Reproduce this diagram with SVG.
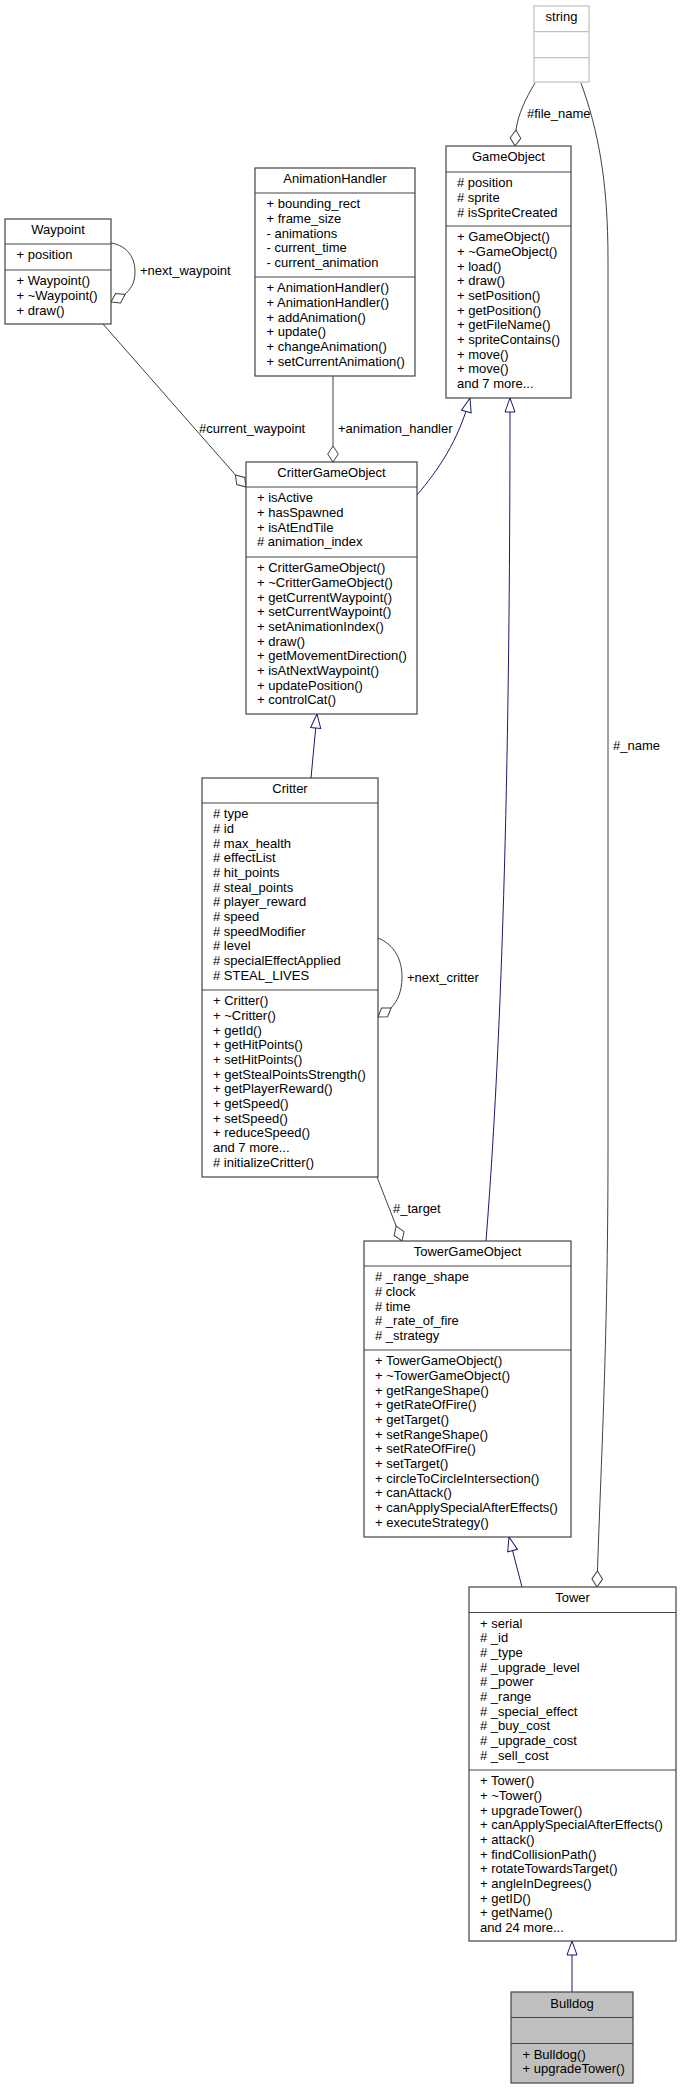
<svg xmlns="http://www.w3.org/2000/svg" width="681" height="2089" viewBox="0 0 681 2089">
<style>
text{font-family:"Liberation Sans",Arial,sans-serif;font-size:13px;fill:#000}
.t{text-anchor:middle}
.box{fill:#fff;stroke:#444;stroke-width:1.2}
.ext{fill:#fff;stroke:#bfbfbf;stroke-width:1.2}
.dv{stroke:#444;stroke-width:1.2}
.dvx{stroke:#bfbfbf;stroke-width:1.2}
.leaf{fill:#bfbfbf;stroke:#444;stroke-width:1.2}
.use{fill:none;stroke:#404040;stroke-width:1}
.inh{fill:none;stroke:#191970;stroke-width:1}
</style>
<defs>
<marker id="dia" viewBox="-17 -7 18 14" markerWidth="18" markerHeight="14" refX="0" refY="0" orient="auto" markerUnits="userSpaceOnUse">
<path d="M0,0 L-8,-5.3 L-16,0 L-8,5.3 Z" fill="#fff" stroke="#404040" stroke-width="1"/>
</marker>
<marker id="tri" viewBox="-15 -6 16 12" markerWidth="16" markerHeight="12" refX="0" refY="0" orient="auto" markerUnits="userSpaceOnUse">
<path d="M0,0 L-14,-5 L-14,5 Z" fill="#fff" stroke="#191970" stroke-width="1"/>
</marker>
</defs>

<g id="connectors">
<path class="use" d="M535,83 C526,98 518,114 516,130 L515,146" marker-end="url(#dia)"/>
<text x="527" y="117.5">#file_name</text>
<path class="use" d="M581,83 C598,130 608,180 608,260 L608,1150 C608,1350 600,1480 597,1587" marker-end="url(#dia)"/>
<text x="613" y="749.5">#_name</text>
<path class="use" d="M111,243 C128,246 135,258 135,272 C135,284 130,290 124,295 L111,302" marker-end="url(#dia)"/>
<text x="140" y="274.5">+next_waypoint</text>
<path class="use" d="M103,324 L246,487" marker-end="url(#dia)"/>
<text x="199" y="432.5">#current_waypoint</text>
<path class="use" d="M333,376 L333,462" marker-end="url(#dia)"/>
<text x="338" y="432.5">+animation_handler</text>
<path class="inh" d="M417,495 C438,470 458,442 470,398" marker-end="url(#tri)"/>
<path class="inh" d="M486,1241 C505,1000 510,700 510,398" marker-end="url(#tri)"/>
<path class="inh" d="M311,778 L317,714" marker-end="url(#tri)"/>
<path class="use" d="M378,938 C395,945 402,960 402,977 C402,992 397,1002 391,1008 L378,1017" marker-end="url(#dia)"/>
<text x="407" y="981.5">+next_critter</text>
<path class="use" d="M377,1177 L402,1241" marker-end="url(#dia)"/>
<text x="393" y="1212.5">#_target</text>
<path class="inh" d="M522,1587 L509,1537" marker-end="url(#tri)"/>
<path class="inh" d="M572,1992 L572,1941" marker-end="url(#tri)"/>
</g>

<g id="string">
<rect class="ext" x="534" y="6" width="55" height="76"/>
<line class="dvx" x1="534" y1="31.6" x2="589" y2="31.6"/>
<line class="dvx" x1="534" y1="57.6" x2="589" y2="57.6"/>
<text class="t" x="561.5" y="21.3">string</text>
</g>

<g id="GameObject">
<rect class="box" x="446" y="146" width="125" height="252"/>
<line class="dv" x1="446" y1="172" x2="571" y2="172"/>
<line class="dv" x1="446" y1="226" x2="571" y2="226"/>
<text class="t" x="508.5" y="161.3">GameObject</text>
<text x="457" y="187.3"><tspan x="457" dy="0"># position</tspan><tspan x="457" dy="14.67"># sprite</tspan><tspan x="457" dy="14.67"># isSpriteCreated</tspan></text>
<text x="457" y="241.3"><tspan x="457" dy="0">+ GameObject()</tspan><tspan x="457" dy="14.67">+ ~GameObject()</tspan><tspan x="457" dy="14.67">+ load()</tspan><tspan x="457" dy="14.67">+ draw()</tspan><tspan x="457" dy="14.67">+ setPosition()</tspan><tspan x="457" dy="14.67">+ getPosition()</tspan><tspan x="457" dy="14.67">+ getFileName()</tspan><tspan x="457" dy="14.67">+ spriteContains()</tspan><tspan x="457" dy="14.67">+ move()</tspan><tspan x="457" dy="14.67">+ move()</tspan><tspan x="457" dy="14.67">and 7 more...</tspan></text>
</g>

<g id="AnimationHandler">
<rect class="box" x="255" y="168" width="160" height="208"/>
<line class="dv" x1="255" y1="193" x2="415" y2="193"/>
<line class="dv" x1="255" y1="277" x2="415" y2="277"/>
<text class="t" x="335" y="183.3">AnimationHandler</text>
<text x="266.5" y="208.3"><tspan x="266.5" dy="0">+ bounding_rect</tspan><tspan x="266.5" dy="14.67">+ frame_size</tspan><tspan x="266.5" dy="14.67">- animations</tspan><tspan x="266.5" dy="14.67">- current_time</tspan><tspan x="266.5" dy="14.67">- current_animation</tspan></text>
<text x="266.5" y="292.3"><tspan x="266.5" dy="0">+ AnimationHandler()</tspan><tspan x="266.5" dy="14.67">+ AnimationHandler()</tspan><tspan x="266.5" dy="14.67">+ addAnimation()</tspan><tspan x="266.5" dy="14.67">+ update()</tspan><tspan x="266.5" dy="14.67">+ changeAnimation()</tspan><tspan x="266.5" dy="14.67">+ setCurrentAnimation()</tspan></text>
</g>

<g id="Waypoint">
<rect class="box" x="5" y="219" width="106" height="105"/>
<line class="dv" x1="5" y1="244" x2="111" y2="244"/>
<line class="dv" x1="5" y1="270" x2="111" y2="270"/>
<text class="t" x="58" y="234.3">Waypoint</text>
<text x="16.5" y="259.3">+ position</text>
<text x="16.5" y="285.3"><tspan x="16.5" dy="0">+ Waypoint()</tspan><tspan x="16.5" dy="14.67">+ ~Waypoint()</tspan><tspan x="16.5" dy="14.67">+ draw()</tspan></text>
</g>

<g id="CritterGameObject">
<rect class="box" x="246" y="462" width="171" height="252"/>
<line class="dv" x1="246" y1="487" x2="417" y2="487"/>
<line class="dv" x1="246" y1="557" x2="417" y2="557"/>
<text class="t" x="331.5" y="477.3">CritterGameObject</text>
<text x="257" y="502.3"><tspan x="257" dy="0">+ isActive</tspan><tspan x="257" dy="14.67">+ hasSpawned</tspan><tspan x="257" dy="14.67">+ isAtEndTile</tspan><tspan x="257" dy="14.67"># animation_index</tspan></text>
<text x="257" y="572.3"><tspan x="257" dy="0">+ CritterGameObject()</tspan><tspan x="257" dy="14.67">+ ~CritterGameObject()</tspan><tspan x="257" dy="14.67">+ getCurrentWaypoint()</tspan><tspan x="257" dy="14.67">+ setCurrentWaypoint()</tspan><tspan x="257" dy="14.67">+ setAnimationIndex()</tspan><tspan x="257" dy="14.67">+ draw()</tspan><tspan x="257" dy="14.67">+ getMovementDirection()</tspan><tspan x="257" dy="14.67">+ isAtNextWaypoint()</tspan><tspan x="257" dy="14.67">+ updatePosition()</tspan><tspan x="257" dy="14.67">+ controlCat()</tspan></text>
</g>

<g id="Critter">
<rect class="box" x="202" y="778" width="176" height="399"/>
<line class="dv" x1="202" y1="803" x2="378" y2="803"/>
<line class="dv" x1="202" y1="990" x2="378" y2="990"/>
<text class="t" x="290" y="793.3">Critter</text>
<text x="213" y="818.3"><tspan x="213" dy="0"># type</tspan><tspan x="213" dy="14.67"># id</tspan><tspan x="213" dy="14.67"># max_health</tspan><tspan x="213" dy="14.67"># effectList</tspan><tspan x="213" dy="14.67"># hit_points</tspan><tspan x="213" dy="14.67"># steal_points</tspan><tspan x="213" dy="14.67"># player_reward</tspan><tspan x="213" dy="14.67"># speed</tspan><tspan x="213" dy="14.67"># speedModifier</tspan><tspan x="213" dy="14.67"># level</tspan><tspan x="213" dy="14.67"># specialEffectApplied</tspan><tspan x="213" dy="14.67"># STEAL_LIVES</tspan></text>
<text x="213" y="1005.3"><tspan x="213" dy="0">+ Critter()</tspan><tspan x="213" dy="14.67">+ ~Critter()</tspan><tspan x="213" dy="14.67">+ getId()</tspan><tspan x="213" dy="14.67">+ getHitPoints()</tspan><tspan x="213" dy="14.67">+ setHitPoints()</tspan><tspan x="213" dy="14.67">+ getStealPointsStrength()</tspan><tspan x="213" dy="14.67">+ getPlayerReward()</tspan><tspan x="213" dy="14.67">+ getSpeed()</tspan><tspan x="213" dy="14.67">+ setSpeed()</tspan><tspan x="213" dy="14.67">+ reduceSpeed()</tspan><tspan x="213" dy="14.67">and 7 more...</tspan><tspan x="213" dy="14.67"># initializeCritter()</tspan></text>
</g>

<g id="TowerGameObject">
<rect class="box" x="364" y="1241" width="207" height="296"/>
<line class="dv" x1="364" y1="1266" x2="571" y2="1266"/>
<line class="dv" x1="364" y1="1350" x2="571" y2="1350"/>
<text class="t" x="467.5" y="1256.3">TowerGameObject</text>
<text x="375" y="1281.3"><tspan x="375" dy="0"># _range_shape</tspan><tspan x="375" dy="14.67"># clock</tspan><tspan x="375" dy="14.67"># time</tspan><tspan x="375" dy="14.67"># _rate_of_fire</tspan><tspan x="375" dy="14.67"># _strategy</tspan></text>
<text x="375" y="1365.3"><tspan x="375" dy="0">+ TowerGameObject()</tspan><tspan x="375" dy="14.67">+ ~TowerGameObject()</tspan><tspan x="375" dy="14.67">+ getRangeShape()</tspan><tspan x="375" dy="14.67">+ getRateOfFire()</tspan><tspan x="375" dy="14.67">+ getTarget()</tspan><tspan x="375" dy="14.67">+ setRangeShape()</tspan><tspan x="375" dy="14.67">+ setRateOfFire()</tspan><tspan x="375" dy="14.67">+ setTarget()</tspan><tspan x="375" dy="14.67">+ circleToCircleIntersection()</tspan><tspan x="375" dy="14.67">+ canAttack()</tspan><tspan x="375" dy="14.67">+ canApplySpecialAfterEffects()</tspan><tspan x="375" dy="14.67">+ executeStrategy()</tspan></text>
</g>

<g id="Tower">
<rect class="box" x="469" y="1587" width="207" height="354"/>
<line class="dv" x1="469" y1="1612.5" x2="676" y2="1612.5"/>
<line class="dv" x1="469" y1="1770" x2="676" y2="1770"/>
<text class="t" x="572.5" y="1602.3">Tower</text>
<text x="480" y="1627.8"><tspan x="480" dy="0">+ serial</tspan><tspan x="480" dy="14.67"># _id</tspan><tspan x="480" dy="14.67"># _type</tspan><tspan x="480" dy="14.67"># _upgrade_level</tspan><tspan x="480" dy="14.67"># _power</tspan><tspan x="480" dy="14.67"># _range</tspan><tspan x="480" dy="14.67"># _special_effect</tspan><tspan x="480" dy="14.67"># _buy_cost</tspan><tspan x="480" dy="14.67"># _upgrade_cost</tspan><tspan x="480" dy="14.67"># _sell_cost</tspan></text>
<text x="480" y="1785.3"><tspan x="480" dy="0">+ Tower()</tspan><tspan x="480" dy="14.67">+ ~Tower()</tspan><tspan x="480" dy="14.67">+ upgradeTower()</tspan><tspan x="480" dy="14.67">+ canApplySpecialAfterEffects()</tspan><tspan x="480" dy="14.67">+ attack()</tspan><tspan x="480" dy="14.67">+ findCollisionPath()</tspan><tspan x="480" dy="14.67">+ rotateTowardsTarget()</tspan><tspan x="480" dy="14.67">+ angleInDegrees()</tspan><tspan x="480" dy="14.67">+ getID()</tspan><tspan x="480" dy="14.67">+ getName()</tspan><tspan x="480" dy="14.67">and 24 more...</tspan></text>
</g>

<g id="Bulldog">
<rect class="leaf" x="511" y="1992" width="122" height="91"/>
<line class="dv" x1="511" y1="2017.5" x2="633" y2="2017.5"/>
<line class="dv" x1="511" y1="2043.5" x2="633" y2="2043.5"/>
<text class="t" x="572" y="2007.5">Bulldog</text>
<text x="522.5" y="2058.8"><tspan x="522.5" dy="0">+ Bulldog()</tspan><tspan x="522.5" dy="14.67">+ upgradeTower()</tspan></text>
</g>
</svg>
